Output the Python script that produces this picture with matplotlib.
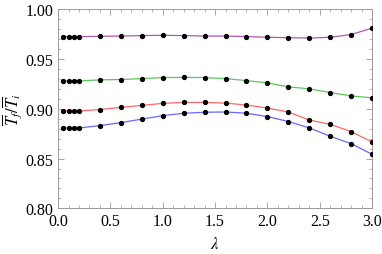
import matplotlib
matplotlib.use("Agg")
import matplotlib.pyplot as plt
from matplotlib.ticker import MultipleLocator

lam = [0.05, 0.1, 0.15, 0.2, 0.4, 0.6, 0.8, 1.0, 1.2, 1.4, 1.6, 1.8, 2.0, 2.2, 2.4, 2.6, 2.8, 3.0]

purple = [0.9725, 0.9725, 0.9725, 0.9725, 0.9728, 0.9730, 0.9735, 0.9738, 0.9735, 0.9730,
          0.9730, 0.9725, 0.9718, 0.9714, 0.9710, 0.9718, 0.9745, 0.9810]
green = [0.9280, 0.9280, 0.9280, 0.9280, 0.9290, 0.9294, 0.9303, 0.9313, 0.9316, 0.9313,
         0.9303, 0.9283, 0.9260, 0.9220, 0.9200, 0.9163, 0.9129, 0.9110]
red = [0.8978, 0.8978, 0.8978, 0.8978, 0.8992, 0.9014, 0.9034, 0.9054, 0.9064, 0.9064,
       0.9057, 0.9037, 0.9007, 0.8968, 0.8887, 0.8844, 0.8770, 0.8667]
blue = [0.8807, 0.8807, 0.8807, 0.8807, 0.8831, 0.8861, 0.8896, 0.8931, 0.8955, 0.8965,
        0.8968, 0.8955, 0.8922, 0.8872, 0.8808, 0.8724, 0.8650, 0.8543]

series = [
    (purple, "#a03ca0"),
    (green, "#3cbf3c"),
    (red, "#ff4d4d"),
    (blue, "#4d4dff"),
]

plt.rcParams["font.family"] = ["Liberation Serif", "DejaVu Serif"]
plt.rcParams["mathtext.fontset"] = "stix"

fig = plt.figure(figsize=(3.82, 2.55), dpi=100)
ax = fig.add_axes([0.152, 0.179, 0.822, 0.781])

for values, color in series:
    ax.plot(lam, values, color=color, lw=0.9, alpha=0.85, zorder=2)
    ax.plot(lam, values, "o", color="black", ms=2.8, zorder=3)

ax.set_xlim(0.0, 3.0)
ax.set_ylim(0.80, 1.00)
ax.xaxis.set_major_locator(MultipleLocator(0.5))
ax.xaxis.set_minor_locator(MultipleLocator(0.1))
ax.yaxis.set_major_locator(MultipleLocator(0.05))
ax.yaxis.set_minor_locator(MultipleLocator(0.01))
ax.xaxis.set_major_formatter(plt.FormatStrFormatter("%.1f"))
ax.yaxis.set_major_formatter(plt.FormatStrFormatter("%.2f"))

ax.tick_params(which="both", direction="in", top=True, right=True, color="#999999", labelsize=11.5)
ax.tick_params(which="major", length=4, width=0.6)
ax.tick_params(which="minor", length=2, width=0.5)
for spine in ax.spines.values():
    spine.set_color("#999999")
    spine.set_linewidth(0.7)

ax.set_xlabel(r"$\lambda$", fontsize=12, labelpad=5)
ax.set_ylabel(r"$\overline{T}_f/\overline{T}_i$", fontsize=12, labelpad=1)

fig.savefig("out.png", dpi=100)
